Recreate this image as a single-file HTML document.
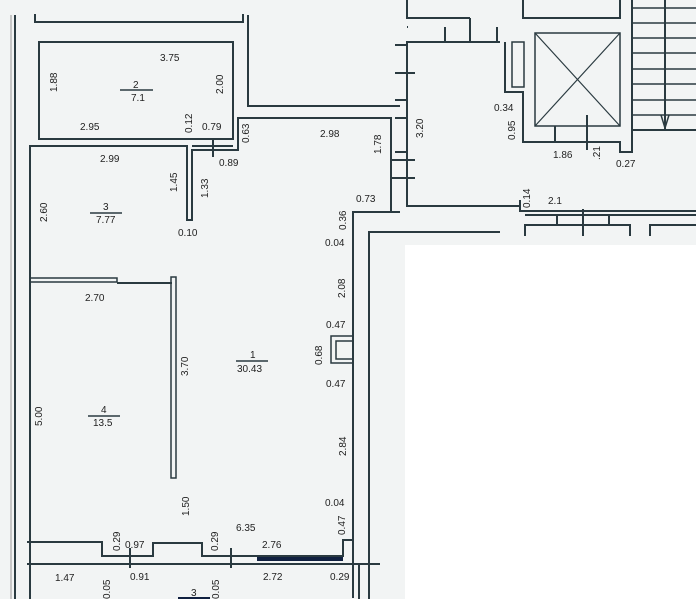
<!DOCTYPE html>
<html><head><style>
html,body{margin:0;padding:0;background:#f3f5f5;}
svg{display:block}
text{font-family:"Liberation Sans",sans-serif;font-size:10px;fill:#222;}
</style></head><body>
<svg width="696" height="599" viewBox="0 0 696 599" xmlns="http://www.w3.org/2000/svg">
<rect width="696" height="599" fill="#f2f4f4"/>
<rect x="405" y="245" width="291" height="354" fill="#ffffff"/>
<g stroke="#2a3a40" stroke-width="2" fill="none">
<!-- outer left -->
<line x1="15" y1="15" x2="15" y2="599"/>
<line x1="11" y1="15" x2="11" y2="599" stroke-width="1" stroke="#999"/>
<!-- top bracket -->
<polyline points="35,14 35,22 243,22 243,14"/>
<!-- room 2 -->
<rect x="39" y="42" width="194" height="97"/>
<polyline points="248,15 248,106 400,106"/>
<!-- room 3 -->
<polyline points="30,599 30,146 187,146 187,220 192,220 192,150 238,150 238,118 391,118 391,212 353,212 353,598"/>
<line x1="192" y1="146" x2="233" y2="146"/>
<line x1="213" y1="140" x2="213" y2="157"/>
<!-- partition -->
<rect x="30" y="278" width="87" height="4" stroke-width="1.5"/>
<line x1="117" y1="283" x2="172" y2="283"/>
<rect x="171" y="277" width="5" height="201" stroke-width="1.5"/>
<!-- right double wall -->
<polyline points="369,599 369,232 500,232"/>
<line x1="389" y1="212" x2="400" y2="212"/>
<line x1="391" y1="160" x2="415" y2="160"/>
<line x1="391" y1="178" x2="415" y2="178"/>
<!-- niche -->
<rect x="331" y="336" width="22" height="27" stroke-width="1.5"/>
<rect x="336" y="341" width="17" height="18" stroke-width="1.5"/>
<!-- bottom wall -->
<polyline points="27,542 102,542 102,556 153,556 153,543 202,543 202,556 343,556 343,540 353,540"/>
<line x1="27" y1="564" x2="380" y2="564"/>
<line x1="257" y1="559" x2="343" y2="559" stroke-width="4" stroke="#102040"/>
<line x1="130" y1="548" x2="130" y2="568"/>
<line x1="231" y1="548" x2="231" y2="568"/>
<line x1="30" y1="564" x2="30" y2="599"/>
<line x1="359" y1="564" x2="359" y2="599"/>
<!-- corridor / stair area -->
<polyline points="407,0 407,18 470,18"/>
<polyline points="408,42 407,42 407,206 520,206 520,211 696,211"/>
<line x1="407" y1="42" x2="500" y2="42"/>
<line x1="445" y1="27" x2="445" y2="42"/>
<line x1="470" y1="18" x2="470" y2="42"/>
<line x1="497" y1="27" x2="497" y2="42"/>
<polyline points="408,27 407,27"/>
<polyline points="395,45 407,45"/>
<line x1="395" y1="73" x2="415" y2="73"/>
<line x1="395" y1="100" x2="407" y2="100"/>
<line x1="395" y1="118" x2="407" y2="118"/>
<line x1="395" y1="152" x2="407" y2="152"/>
<line x1="395" y1="178" x2="407" y2="178"/>
<line x1="520" y1="206" x2="520" y2="200"/>
<polyline points="523,0 523,18 620,18 620,0"/>
<polyline points="505,42 505,92 523,92 523,142 620,142 620,152 632,152 632,130 696,130"/>
<rect x="512" y="42" width="12" height="45" stroke-width="1.5"/>
<rect x="535" y="33" width="85" height="93" stroke-width="1.5"/>
<line x1="535" y1="33" x2="620" y2="126" stroke-width="1.2"/>
<line x1="620" y1="33" x2="535" y2="126" stroke-width="1.2"/>
<line x1="555" y1="126" x2="555" y2="142"/>
<line x1="587" y1="115" x2="587" y2="150"/>
<line x1="632" y1="0" x2="632" y2="130"/>
<line x1="665" y1="0" x2="665" y2="130"/>
<line x1="525" y1="215" x2="696" y2="215"/>
<polyline points="525,236 525,225 630,225 630,236"/>
<polyline points="650,236 650,225 696,225"/>
<line x1="557" y1="215" x2="557" y2="225"/>
<line x1="583" y1="209" x2="583" y2="236"/>
<line x1="609" y1="215" x2="609" y2="225"/>
</g>
<g stroke="#2a3a40" stroke-width="1.5">
<line x1="632" y1="8" x2="696" y2="8"/><line x1="632" y1="23" x2="696" y2="23"/>
<line x1="632" y1="38" x2="696" y2="38"/><line x1="632" y1="53" x2="696" y2="53"/>
<line x1="632" y1="69" x2="696" y2="69"/><line x1="632" y1="84" x2="696" y2="84"/>
<line x1="632" y1="100" x2="696" y2="100"/><line x1="632" y1="115" x2="696" y2="115"/>
<polyline points="661,115 665,128 669,115" fill="none"/>
<line x1="120" y1="90" x2="153" y2="90"/>
<line x1="90" y1="213" x2="122" y2="213"/>
<line x1="88" y1="416" x2="120" y2="416"/>
<line x1="236" y1="361" x2="268" y2="361"/>
</g>
<text x="160" y="61">3.75</text>
<text x="133" y="88">2</text><text x="131" y="101">7.1</text>
<text x="80" y="130">2.95</text>
<text x="202" y="130">0.79</text>
<text x="219" y="166">0.89</text>
<text x="100" y="162">2.99</text>
<text x="103" y="210">3</text><text x="96" y="223">7.77</text>
<text x="178" y="236">0.10</text>
<text x="85" y="301">2.70</text>
<text x="250" y="358">1</text><text x="237" y="372">30.43</text>
<text x="101" y="413">4</text><text x="93" y="426">13.5</text>
<text x="320" y="137">2.98</text>
<text x="356" y="202">0.73</text>
<text x="325" y="246">0.04</text>
<text x="326" y="328">0.47</text>
<text x="326" y="387">0.47</text>
<text x="325" y="506">0.04</text>
<text x="236" y="531">6.35</text>
<text x="125" y="548">0.97</text>
<text x="262" y="548">2.76</text>
<text x="55" y="581">1.47</text>
<text x="130" y="580">0.91</text>
<text x="263" y="580">2.72</text>
<text x="330" y="580">0.29</text>
<text x="494" y="111">0.34</text>
<text x="553" y="158">1.86</text>
<text x="616" y="167">0.27</text>
<text x="548" y="204">2.1</text>
<g>
<text transform="translate(57,92) rotate(-90)">1.88</text>
<text transform="translate(223,94) rotate(-90)">2.00</text>
<text transform="translate(192,133) rotate(-90)">0.12</text>
<text transform="translate(249,143) rotate(-90)">0.63</text>
<text transform="translate(381,154) rotate(-90)">1.78</text>
<text transform="translate(47,222) rotate(-90)">2.60</text>
<text transform="translate(177,192) rotate(-90)">1.45</text>
<text transform="translate(208,198) rotate(-90)">1.33</text>
<text transform="translate(346,230) rotate(-90)">0.36</text>
<text transform="translate(345,298) rotate(-90)">2.08</text>
<text transform="translate(322,365) rotate(-90)">0.68</text>
<text transform="translate(188,376) rotate(-90)">3.70</text>
<text transform="translate(42,426) rotate(-90)">5.00</text>
<text transform="translate(346,456) rotate(-90)">2.84</text>
<text transform="translate(189,516) rotate(-90)">1.50</text>
<text transform="translate(345,535) rotate(-90)">0.47</text>
<text transform="translate(120,551) rotate(-90)">0.29</text>
<text transform="translate(218,551) rotate(-90)">0.29</text>
<text transform="translate(110,599) rotate(-90)">0.05</text>
<text transform="translate(219,599) rotate(-90)">0.05</text>
<text transform="translate(423,138) rotate(-90)">3.20</text>
<text transform="translate(515,140) rotate(-90)">0.95</text>
<text transform="translate(600,160) rotate(-90)">.21</text>
<text transform="translate(530,208) rotate(-90)">0.14</text>
</g>
<text x="191" y="596">3</text>
<rect x="178" y="597" width="32" height="2" fill="#102040"/>
</svg>
</body></html>
